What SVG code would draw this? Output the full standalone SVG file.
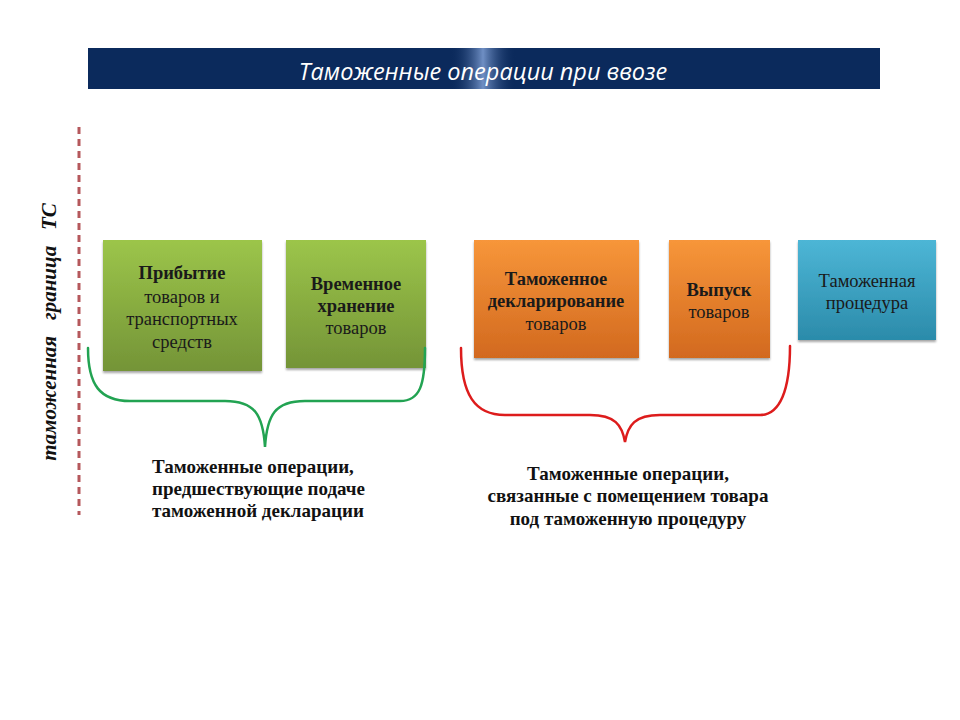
<svg xmlns="http://www.w3.org/2000/svg" width="960" height="720" viewBox="0 0 960 720">
<defs>
<linearGradient id="hl" x1="0" y1="0" x2="1" y2="0">
<stop offset="0" stop-color="#0b2a5c" stop-opacity="0"/>
<stop offset="0.5" stop-color="#6f8fc4"/>
<stop offset="1" stop-color="#0b2a5c" stop-opacity="0"/>
</linearGradient>
<linearGradient id="gGreen" x1="0" y1="0" x2="0" y2="1">
<stop offset="0" stop-color="#9cc54a"/>
<stop offset="1" stop-color="#749437"/>
</linearGradient>
<linearGradient id="gOrange" x1="0" y1="0" x2="0" y2="1">
<stop offset="0" stop-color="#f7963a"/>
<stop offset="1" stop-color="#d2691f"/>
</linearGradient>
<linearGradient id="gBlue" x1="0" y1="0" x2="0" y2="1">
<stop offset="0" stop-color="#4db6d6"/>
<stop offset="1" stop-color="#2b8baa"/>
</linearGradient>
<filter id="sh" x="-5%" y="-5%" width="110%" height="115%">
<feDropShadow dx="0" dy="2" stdDeviation="1" flood-color="#000" flood-opacity="0.35"/>
</filter>
</defs>
<style>
.t{font-family:"Liberation Serif","Times New Roman",serif;font-size:18.5px;fill:#1a1a1a;text-anchor:middle}
.b{font-weight:bold}
.lab{font-family:"Liberation Serif","Times New Roman",serif;font-size:19px;font-weight:bold;fill:#111}
.brace{fill:none;stroke-width:2.5;stroke-linecap:round}
</style>
<rect width="960" height="720" fill="#ffffff"/>

<g id="header">
<rect x="88" y="48" width="792" height="41" fill="#0b2a5c"/>
<rect x="450" y="48" width="66" height="41" fill="url(#hl)"/>
<text x="483" y="80" font-family="'Open Sans','Liberation Sans',sans-serif" font-style="italic" font-size="23.5" fill="#ffffff" text-anchor="middle">Таможенные операции при ввозе</text>
</g>

<g id="border">
<line x1="79" y1="127" x2="79" y2="515" stroke="#b5585c" stroke-width="3" stroke-dasharray="7,5"/>
<text transform="translate(56,332) rotate(-90)" font-family="'Liberation Serif','Times New Roman',serif" font-style="italic" font-weight="bold" font-size="21" fill="#111" text-anchor="middle" xml:space="preserve">таможенная   граница   ТС</text>
</g>

<g id="node1">
<rect x="103" y="240" width="159" height="131" fill="url(#gGreen)" filter="url(#sh)"/>
<text class="t b" x="182" y="279">Прибытие</text>
<text class="t" x="182" y="303">товаров и</text>
<text class="t" x="182" y="325">транспортных</text>
<text class="t" x="182" y="348">средств</text>
</g>
<g id="node2">
<rect x="286" y="240" width="140" height="128" fill="url(#gGreen)" filter="url(#sh)"/>
<text class="t b" x="356" y="290">Временное</text>
<text class="t b" x="356" y="312">хранение</text>
<text class="t" x="356" y="334">товаров</text>
</g>
<g id="node3">
<rect x="474" y="240" width="165" height="118" fill="url(#gOrange)" filter="url(#sh)"/>
<text class="t b" x="556" y="285">Таможенное</text>
<text class="t b" x="556" y="307">декларирование</text>
<text class="t" x="556" y="330">товаров</text>
</g>
<g id="node4">
<rect x="669" y="240" width="101" height="118" fill="url(#gOrange)" filter="url(#sh)"/>
<text class="t b" x="719" y="296">Выпуск</text>
<text class="t" x="719" y="318">товаров</text>
</g>
<g id="node5">
<rect x="798" y="240" width="138" height="100" fill="url(#gBlue)" filter="url(#sh)"/>
<text class="t" x="867" y="287" fill="#222">Таможенная</text>
<text class="t" x="867" y="309" fill="#222">процедура</text>
</g>

<g id="connectors">
<path class="brace" stroke="#22a352" d="M88,348 C88,385 100,401 130,401 L225,401 C255,401 263,415 265,447 C267,415 275,401 305,401 L400,401 C420,401 425,385 425,348"/>
<path class="brace" stroke="#dd1c1c" d="M461,348 C461,395 475,415 505,415 L590,415 C615,415 622,425 625,442 C628,425 635,415 660,415 L760,415 C780,415 790,390 790,346"/>
</g>

<g id="labels">
<text class="lab" x="152" y="473">Таможенные операции,</text>
<text class="lab" x="152" y="495">предшествующие подаче</text>
<text class="lab" x="152" y="517">таможенной декларации</text>
<text class="lab" x="628" y="480" text-anchor="middle">Таможенные операции,</text>
<text class="lab" x="628" y="502" text-anchor="middle">связанные с помещением товара</text>
<text class="lab" x="628" y="525" text-anchor="middle">под таможенную процедуру</text>
</g>
</svg>
